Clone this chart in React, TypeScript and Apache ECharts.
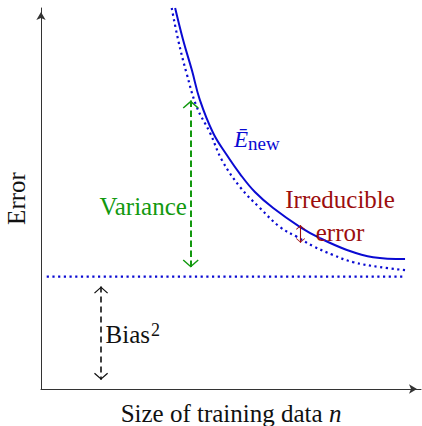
import React, { useEffect, useRef } from "react";
import * as echarts from "echarts";

// Expected new error  E_new (solid)
const eNewCurve: [number, number][] = [
  [3.53, 10.0], [3.74, 9.16], [3.97, 8.37], [4.18, 7.59], [4.53, 6.72],
  [4.89, 6.14], [5.24, 5.64], [5.63, 5.17], [6.11, 4.75], [6.82, 4.25],
  [7.34, 3.96], [8.05, 3.65], [8.74, 3.46], [9.58, 3.41],
];
// Bias^2 + variance (dotted)
const biasVarCurve: [number, number][] = [
  [3.44, 10.0], [3.61, 9.16], [3.83, 8.29], [4.1, 7.4], [4.45, 6.72],
  [4.76, 6.01], [5.24, 5.3], [5.76, 4.75], [6.29, 4.25], [6.74, 3.99],
  [7.16, 3.75], [7.68, 3.52], [8.21, 3.33], [8.92, 3.2], [9.58, 3.12],
];
const biasLevel = 2.95;
const biasLineX: [number, number] = [0.15, 9.58];

// Annotation arrows: [x, yFrom, yTo]
const varianceArrow: [number, number, number] = [3.94, 7.57, 3.19];
const biasArrow: [number, number, number] = [1.58, 2.69, 0.24];
const irreducibleArrow: [number, number, number] = [6.83, 4.3, 3.84];

// Text labels
const labelTexts = {
  eNew: "{e|Ē}{s|new}",
  variance: "Variance",
  irreducible: "Irreducible\nerror",
  bias: "{b|Bias}{p|2}",
  xName: "Size of training data {i|n}",
  yName: "Error",
};
const labelPos = {
  eNew: [5.08, 6.55],
  variance: [3.84, 4.79],
  irreducible: [7.87, 4.54],
  bias: [1.7, 1.43],
};

const FONT = "'Liberation Serif', 'Times New Roman', serif";
const BLUE = "#0a0ad2";
const GREEN = "#12990f";
const RED = "#9c0e0e";
const BLACK = "#111111";
const AXIS = "#333333";

// chevron pointing up, tip at vertical center of the box
const CHEV = "path://M8,-8 M8,0 L16,7 L15,8 L8,1.8 L1,8 L0,7 Z";

function arrowSeries(a: [number, number, number], color: string, width: number, type: any, size: [number, number]) {
  return {
    type: "line",
    data: [],
    silent: true,
    markLine: {
      silent: true,
      animation: false,
      symbol: [CHEV, CHEV],
      symbolSize: size,
      label: { show: false },
      emphasis: { disabled: true },
      lineStyle: { color, width, type },
      data: [[{ coord: [a[0], a[1]] }, { coord: [a[0], a[2]] }]],
    },
  };
}

export default function App() {
  const ref = useRef<HTMLDivElement>(null);
  useEffect(() => {
    if (!ref.current) return;
    const chart = echarts.init(ref.current, null, { renderer: "svg" });
    chart.setOption({
      animation: false,
      textStyle: { fontFamily: FONT },
      grid: { left: 41, right: 1, top: 8, bottom: 37, outerBoundsMode: "none" },
      xAxis: {
        type: "value",
        min: 0,
        max: 10,
        axisLine: {
          show: true,
          onZero: false,
          symbol: ["none", "arrow"],
          symbolSize: [7, 8],
          symbolOffset: [0, -4],
          lineStyle: { color: AXIS, width: 1 },
        },
        axisTick: { show: false },
        axisLabel: { show: false },
        splitLine: { show: false },
        name: labelTexts.xName,
        nameLocation: "middle",
        nameGap: 12,
        nameTextStyle: {
          fontFamily: FONT,
          fontSize: 25,
          color: BLACK,
          verticalAlign: "top",
          rich: {
            i: { fontFamily: FONT, fontSize: 25, fontStyle: "italic", color: BLACK },
          },
        },
      },
      yAxis: {
        type: "value",
        min: 0,
        max: 10,
        axisLine: {
          show: true,
          onZero: false,
          symbol: ["none", "arrow"],
          symbolSize: [7, 8],
          symbolOffset: [0, -4],
          lineStyle: { color: AXIS, width: 1 },
        },
        axisTick: { show: false },
        axisLabel: { show: false },
        splitLine: { show: false },
        name: labelTexts.yName,
        nameLocation: "middle",
        nameRotate: 90,
        nameGap: 12,
        nameTextStyle: { fontFamily: FONT, fontSize: 25, color: BLACK },
      },
      series: [
        {
          type: "line",
          data: [[biasLineX[0], biasLevel], [biasLineX[1], biasLevel]],
          showSymbol: false,
          silent: true,
          lineStyle: { color: BLUE, width: 2.2, type: [2.2, 3.5] },
        },
        {
          type: "line",
          data: biasVarCurve,
          smooth: 0.4,
          showSymbol: false,
          silent: true,
          lineStyle: { color: BLUE, width: 2.2, type: [2.2, 3.5] },
        },
        {
          type: "line",
          data: eNewCurve,
          smooth: 0.4,
          showSymbol: false,
          silent: true,
          lineStyle: { color: BLUE, width: 2 },
        },
        arrowSeries(varianceArrow, GREEN, 2, [6.5, 3.5], [16, 16]),
        arrowSeries(biasArrow, BLACK, 1.6, [6, 4], [14, 14]),
        arrowSeries(irreducibleArrow, RED, 1.1, "solid", [9, 9]),
      ],
    });

    const px = (p: number[]) => chart.convertToPixel({ gridIndex: 0 }, p) as number[];
    const txt = (p: number[], text: string, fill: string, align: string, extra: any = {}) => {
      const [x, y] = px(p);
      return {
        type: "text",
        x,
        y,
        z: 100,
        silent: true,
        style: {
          text,
          fill,
          align,
          verticalAlign: "middle",
          fontFamily: FONT,
          fontSize: 25,
          ...extra,
        },
      };
    };
    chart.setOption({
      graphic: [
        txt(labelPos.eNew, labelTexts.eNew, BLUE, "left", {
          rich: {
            e: { fontFamily: FONT, fontSize: 23, fontStyle: "italic", fill: BLUE },
            s: { fontFamily: FONT, fontSize: 19, fill: BLUE, padding: [8, 0, 0, 0] },
          },
        }),
        txt(labelPos.variance, labelTexts.variance, GREEN, "right"),
        txt(labelPos.irreducible, labelTexts.irreducible, RED, "center", { lineHeight: 33 }),
        txt(labelPos.bias, labelTexts.bias, BLACK, "left", {
          rich: {
            b: { fontFamily: FONT, fontSize: 25, fill: BLACK },
            p: { fontFamily: FONT, fontSize: 18, fill: BLACK, padding: [0, 0, 10, 1] },
          },
        }),
      ],
    });
    return () => chart.dispose();
  }, []);
  return (
    <div
      ref={ref}
      style={{ position: "fixed", left: 0, top: 0, width: 422, height: 426, background: "#fff" }}
    />
  );
}
